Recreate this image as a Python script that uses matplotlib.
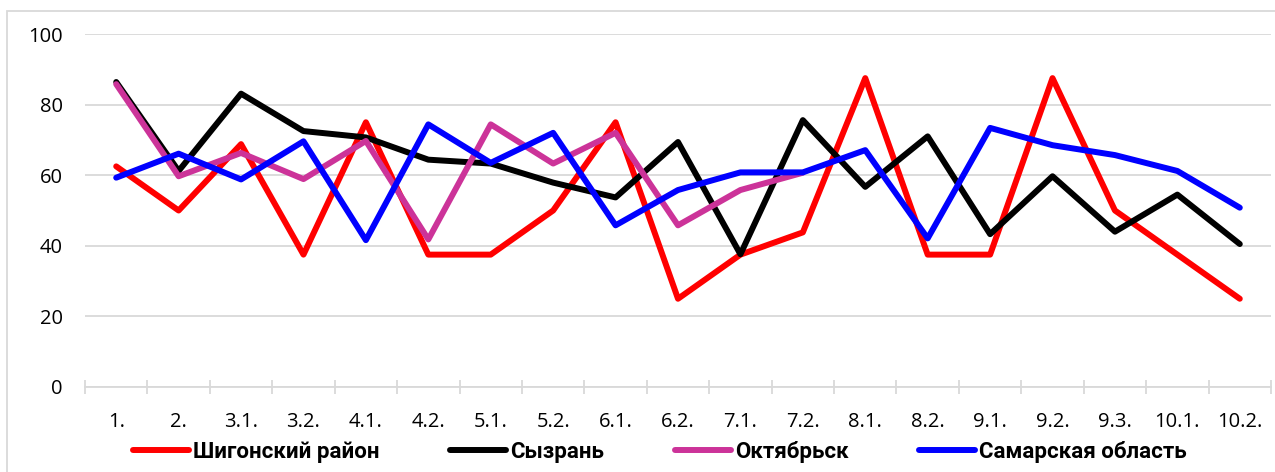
import numpy as np
import matplotlib
matplotlib.use('Agg')
import matplotlib.pyplot as plt
from matplotlib.patches import Rectangle
from matplotlib.ticker import FixedLocator

categories = ['1.', '2.', '3.1.', '3.2.', '4.1.', '4.2.', '5.1.', '5.2.', '6.1.', '6.2.',
	'7.1.', '7.2.', '8.1.', '8.2.', '9.1.', '9.2.', '9.3.', '10.1.', '10.2.']

shigonsky = [62.5, 50, 68.8, 37.5, 75, 37.5, 37.5, 50, 75, 25,
	37.5, 43.8, 87.5, 37.5, 37.5, 87.5, 50, 37.5, 25]
syzran = [86.4, 61.2, 83.1, 72.5, 70.7, 64.4, 63.3, 57.9, 53.7, 69.4,
	37.6, 75.6, 56.7, 71.0, 43.3, 59.7, 44.0, 54.5, 40.5]
oktyabrsk = [85.8, 59.7, 66.3, 58.9, 69.7, 41.8, 74.4, 63.3, 72.0, 45.8,
	55.8, 60.7, np.nan, np.nan, np.nan, np.nan, np.nan, np.nan, np.nan]
samara = [59.3, 66.1, 58.8, 69.6, 41.6, 74.4, 63.5, 72.0, 45.8, 55.8,
	60.8, 60.8, 67.1, 42.1, 73.4, 68.5, 65.7, 61.2, 50.8]

seriesNames = ['Шигонский район', 'Сызрань', 'Октябрьск', 'Самарская область']
seriesColors = ['#FF0000', '#000000', '#CC3399', '#0000FF']

gridColor = '#D9D9D9'
W, H = 1275, 472

fig = plt.figure(figsize=(W/100., H/100.), dpi=100)
ax = fig.add_axes([85./W, 1-387./H, (1271.-85.)/W, (387.-34.)/H])

# outer chart border
fig.patches.append(Rectangle((7./W, -0.1), 1.2, 1-11./H+0.1, transform=fig.transFigure,
	fill=False, edgecolor=gridColor, linewidth=1.3))

x = np.arange(len(categories))
for vals, name, col in zip([shigonsky, syzran, oktyabrsk, samara], seriesNames, seriesColors):
	ax.plot(x, vals, color=col, linewidth=4.3, label=name,
		solid_joinstyle='round', solid_capstyle='round')

ax.set_xlim(-0.5, len(categories)-0.5)
ax.set_ylim(0, 100)
ax.set_yticks(np.arange(0, 101, 20))
ax.grid(axis='y', color=gridColor, linewidth=1.3)
ax.set_axisbelow(True)
for s in ['top', 'right', 'left']:
	ax.spines[s].set_visible(False)
ax.spines['bottom'].set_color(gridColor)
ax.spines['bottom'].set_linewidth(1.3)

ax.set_xticks(x)
ax.set_xticklabels(categories)
ax.xaxis.set_minor_locator(FixedLocator(np.arange(-0.5, len(categories), 1.0)))
ax.tick_params(axis='x', which='major', length=0, pad=18, labelsize=14.5)
ax.tick_params(axis='x', which='minor', length=10, direction='inout', color=gridColor, width=1.3)
ax.tick_params(axis='y', length=0, pad=16, labelsize=14.5)
for lab in ax.get_xticklabels() + ax.get_yticklabels():
	lab.set_family(['Open Sans', 'DejaVu Sans'])

leg = fig.legend(loc='center', bbox_to_anchor=(133./W, 0.0, (1187.-133.)/W, 2*(472.-452.)/H),
	mode='expand', ncol=4, frameon=False, borderpad=0, borderaxespad=0,
	handlelength=2.5, handletextpad=0.2, columnspacing=3.0,
	prop={'family': ['Roboto', 'DejaVu Sans'], 'weight': 'bold', 'size': 16})

fig.savefig('out.png', dpi=100)
